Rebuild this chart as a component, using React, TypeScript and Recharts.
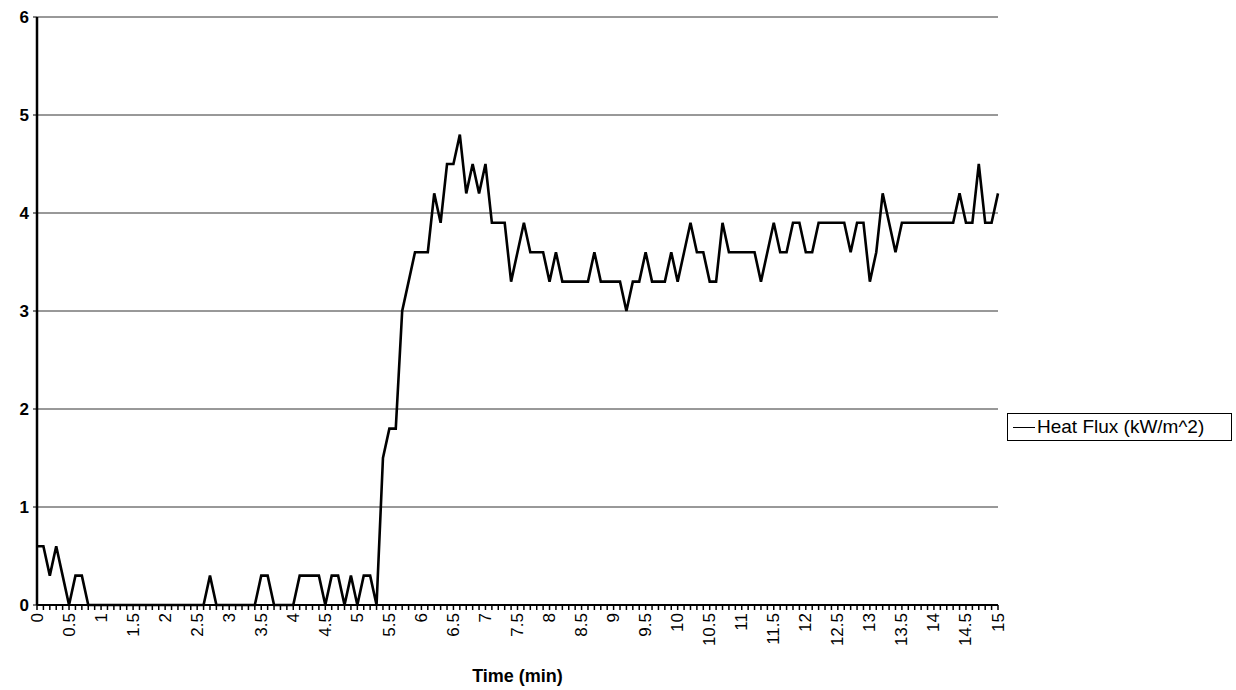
import React from 'react'
import { LineChart, Line, XAxis, YAxis, CartesianGrid } from 'recharts'

// time axis: one reading every 0.1 min, 0 .. 15 min
const timeMin: number[] = Array.from({ length: 151 }, (_, i) => i / 10)

// heat flux readings (kW/m^2)
const heatFlux: number[] = [
  0.6, 0.6, 0.3, 0.6, 0.3, 0, 0.3, 0.3, 0, 0,
  0, 0, 0, 0, 0, 0, 0, 0, 0, 0,
  0, 0, 0, 0, 0, 0, 0, 0.3, 0, 0,
  0, 0, 0, 0, 0, 0.3, 0.3, 0, 0, 0,
  0, 0.3, 0.3, 0.3, 0.3, 0, 0.3, 0.3, 0, 0.3,
  0, 0.3, 0.3, 0, 1.5, 1.8, 1.8, 3.0, 3.3, 3.6,
  3.6, 3.6, 4.2, 3.9, 4.5, 4.5, 4.8, 4.2, 4.5, 4.2,
  4.5, 3.9, 3.9, 3.9, 3.3, 3.6, 3.9, 3.6, 3.6, 3.6,
  3.3, 3.6, 3.3, 3.3, 3.3, 3.3, 3.3, 3.6, 3.3, 3.3,
  3.3, 3.3, 3.0, 3.3, 3.3, 3.6, 3.3, 3.3, 3.3, 3.6,
  3.3, 3.6, 3.9, 3.6, 3.6, 3.3, 3.3, 3.9, 3.6, 3.6,
  3.6, 3.6, 3.6, 3.3, 3.6, 3.9, 3.6, 3.6, 3.9, 3.9,
  3.6, 3.6, 3.9, 3.9, 3.9, 3.9, 3.9, 3.6, 3.9, 3.9,
  3.3, 3.6, 4.2, 3.9, 3.6, 3.9, 3.9, 3.9, 3.9, 3.9,
  3.9, 3.9, 3.9, 3.9, 4.2, 3.9, 3.9, 4.5, 3.9, 3.9, 4.2,
]

const yTicks = [0, 1, 2, 3, 4, 5, 6]
const seriesName = 'Heat Flux (kW/m^2)'
const xTitle = 'Time (min)'

const FONT = '"Liberation Sans", Arial, sans-serif'

// only every 5th category (0.5 min) gets a label, every category gets a tick mark
const TimeTick = (props: any) => {
  const { x, y, payload, index } = props
  if (index % 5 !== 0) return null
  const label = String(Number(payload.value.toFixed(1)))
  return (
    <text
      x={x}
      y={y}
      transform={`rotate(-90, ${x}, ${y})`}
      textAnchor="end"
      dominantBaseline="central"
      fontSize={17}
      fontFamily={FONT}
      fill="#000"
    >
      {label}
    </text>
  )
}

export default function App() {
  const data = timeMin.map((t, i) => ({ t, flux: heatFlux[i] }))

  return (
    <div style={{ position: 'absolute', left: 0, top: 0, width: 1236, height: 690, background: '#fff' }}>
      <LineChart
        width={1236}
        height={690}
        data={data}
        margin={{ top: 17, right: 238, left: 6, bottom: 8 }}
      >
        <CartesianGrid horizontal vertical={false} stroke="#333" strokeWidth={1} />
        <XAxis
          dataKey="t"
          type="category"
          scale="point"
          interval={0}
          height={77}
          tick={<TimeTick />}
          tickSize={5}
          tickMargin={3}
          tickLine={{ stroke: '#000', strokeWidth: 1.5 }}
          axisLine={{ stroke: '#000', strokeWidth: 2 }}
          label={{
            value: xTitle,
            position: 'insideBottom',
            offset: 0,
            style: { fontFamily: FONT, fontSize: 18, fontWeight: 'bold', fill: '#000' },
          }}
        />
        <YAxis
          domain={[0, 6]}
          ticks={yTicks}
          width={31}
          interval={0}
          tickSize={4}
          tickMargin={4}
          tickLine={{ stroke: '#000' }}
          axisLine={{ stroke: '#000', strokeWidth: 2.5 }}
          tick={{ fontFamily: FONT, fontSize: 17, fill: '#000', fontWeight: 'bold' }}
        />
        <YAxis
          yAxisId="frame"
          orientation="right"
          domain={[0, 6]}
          width={0}
          tick={false}
          tickLine={false}
          axisLine={{ stroke: '#000', strokeWidth: 2.5 }}
        />
        <Line
          dataKey="flux"
          name={seriesName}
          type="linear"
          stroke="#000"
          strokeWidth={2.6}
          dot={false}
          isAnimationActive={false}
        />
      </LineChart>
      <div
        style={{
          position: 'absolute',
          left: 1007,
          top: 413,
          width: 225,
          height: 28,
          border: '1px solid #000',
          display: 'flex',
          alignItems: 'center',
          boxSizing: 'border-box',
          fontFamily: FONT,
          fontSize: 19,
          color: '#000',
          whiteSpace: 'nowrap',
        }}
      >
        <span style={{ display: 'inline-block', width: 22, height: 0, borderTop: '1.5px solid #000', margin: '0 2px 0 5px' }} />
        <span>{seriesName}</span>
      </div>
    </div>
  )
}
